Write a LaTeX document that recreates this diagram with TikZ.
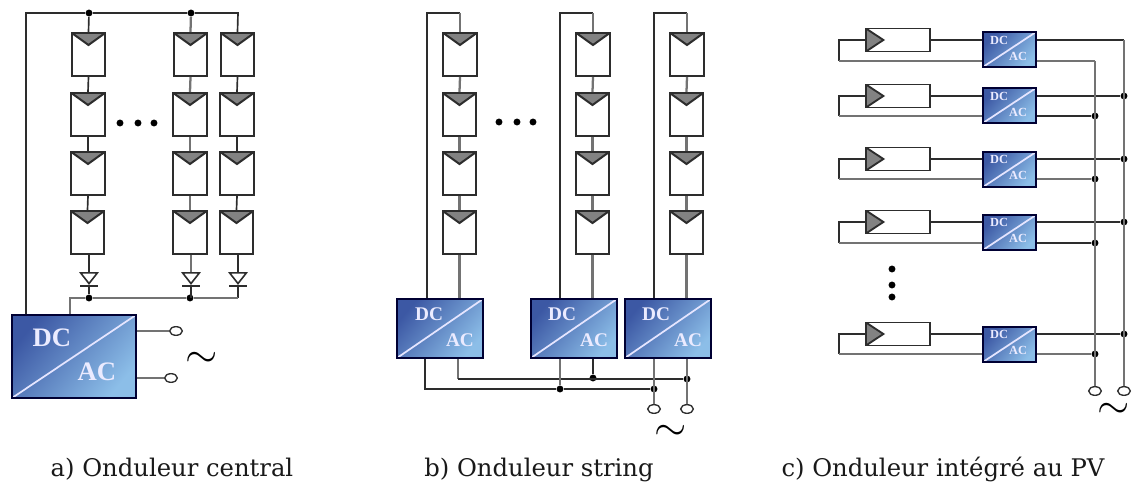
\documentclass[tikz,border=0pt]{standalone}
\usepackage{fontspec}
\newfontfamily\captionfont{DejaVu Serif}
\newfontfamily\convfont{Liberation Serif}
\usetikzlibrary{shapes.geometric}

\definecolor{pvgray}{RGB}{130,130,130}
\definecolor{wiredark}{RGB}{45,45,45}
\definecolor{wirelight}{RGB}{115,115,115}
\definecolor{convdark}{RGB}{60,88,164}
\definecolor{convlight}{RGB}{140,190,232}

\tikzset{every picture/.style={line width=0.75pt}}
\tikzset{
	wire/.style={draw=wiredark,line width=1.25pt},
	wiregray/.style={draw=wirelight,line width=1.7pt},
	pvv/.style={draw=wiredark,line width=1.5pt,fill=white,inner sep=0pt,minimum width=25pt,minimum height=32.25pt,
		path picture={\filldraw[fill=pvgray,draw=wiredark] (path picture bounding box.north west) -- (path picture bounding box.north east) -- ([yshift=-9pt]path picture bounding box.north) -- cycle;}},
	pvh/.style={draw=wiredark,line width=1.4pt,fill=white,inner sep=0pt,minimum width=48pt,minimum height=17.25pt,
		path picture={\filldraw[fill=pvgray,draw=wiredark] (path picture bounding box.north west) -- (path picture bounding box.south west) -- ([xshift=13pt]path picture bounding box.west) -- cycle;}},
	conv/.style={draw=black!80!blue,line width=1.2pt,inner sep=0pt,shade,shading=axis,left color=convdark,right color=convlight,shading angle=50,
		path picture={\draw[white!90!blue,line width=1.3pt] (path picture bounding box.south west) -- (path picture bounding box.north east);}},
	convA/.style={conv,minimum width=93pt,minimum height=62.25pt},
	convB/.style={conv,minimum width=64.5pt,minimum height=44.25pt},
	convC/.style={conv,minimum width=39.75pt,minimum height=26.25pt},
	convtextA/.style={text=white!92!blue,inner sep=0pt,font=\convfont\bfseries\fontsize{20}{24}\selectfont},
	convtextB/.style={text=white!92!blue,inner sep=0pt,font=\convfont\bfseries\fontsize{14.5}{17}\selectfont},
	convtextC/.style={text=white!92!blue,inner sep=0pt,font=\convfont\bfseries\fontsize{9.3}{11}\selectfont},
	junc/.style={circle,fill=black,inner sep=0pt,minimum size=5.2pt},
	term/.style={ellipse,draw=wiredark,fill=white,line width=1pt,inner sep=0pt,minimum width=9.5pt,minimum height=6.5pt},
	diode/.style={isosceles triangle,isosceles triangle stretches,shape border rotate=-90,draw=wiredark,fill=white,line width=1.2pt,inner sep=0pt,minimum width=12.5pt,minimum height=8pt},
	caption/.style={inner sep=0pt,anchor=base,text=black!90,font=\captionfont\fontsize{18.2}{22}\selectfont}
}

\begin{document}
\begin{tikzpicture}[x=0.75pt,y=0.75pt,yscale=-1,xscale=1]
	\useasboundingbox (0,0) rectangle (1133,484);

	% Onduleur central
	\node[pvv] (a11) at (88.5,54.5) {};
	\node[pvv] (a12) at (88,114.5) {};
	\node[pvv] (a13) at (88,173.5) {};
	\node[pvv] (a14) at (87.5,232.5) {};
	\node[pvv] (a21) at (190.5,54.5) {};
	\node[pvv] (a22) at (190,114.5) {};
	\node[pvv] (a23) at (190,173.5) {};
	\node[pvv] (a24) at (190,232.5) {};
	\node[pvv] (a31) at (237.5,54.5) {};
	\node[pvv] (a32) at (237,114.5) {};
	\node[pvv] (a33) at (237,173.5) {};
	\node[pvv] (a34) at (236.5,232.5) {};
	\node[diode] (ad1) at (89,277) {};
	\node[diode] (ad2) at (191,277) {};
	\node[diode] (ad3) at (238,277) {};
	\node[junc] (aj1) at (89,13) {};
	\node[junc] (aj2) at (191,13) {};
	\node[junc] (aj3) at (89,298) {};
	\node[junc] (aj4) at (190,298) {};
	\node[convA] (aconv) at (74,356.5) {};
	\node[term] (at1) at (176,331) {};
	\node[term] (at2) at (171,378) {};
	\coordinate (atl) at (26,13);
	\coordinate (atr) at (238,13);
	\coordinate (abl) at (70,298);
	\coordinate (abr) at (238,298);

	%Straight Lines
	\draw[wire] (aconv.north -| atl) -- (atl) -- (aj1) -- (aj2) -- (atr) -- (a31.north);
	\draw[wire] (aj1) -- (a11.north);
	\draw[wiregray] (aj2) -- (a21.north);
	\draw[wire] (a11.south) -- (a12.north);
	\draw[wire] (a12.south) -- (a13.north);
	\draw[wire] (a13.south) -- (a14.north);
	\draw[wire] (a14.south -| ad1) -- (ad1.north);
	\draw[wiregray] (a21.south) -- (a22.north);
	\draw[wiregray] (a22.south) -- (a23.north);
	\draw[wiregray] (a23.south) -- (a24.north);
	\draw[wiregray] (a24.south -| ad2) -- (ad2.north);
	\draw[wire] (a31.south) -- (a32.north);
	\draw[wire] (a32.south) -- (a33.north);
	\draw[wire] (a33.south) -- (a34.north);
	\draw[wire] (a34.south -| ad3) -- (ad3.north);
	\draw[wire] ([xshift=-6.4pt]ad1.apex) -- ([xshift=6.4pt]ad1.apex);
	\draw[wire] ([xshift=-6.4pt]ad2.apex) -- ([xshift=6.4pt]ad2.apex);
	\draw[wire] ([xshift=-6.4pt]ad3.apex) -- ([xshift=6.4pt]ad3.apex);
	\draw[wire] (ad1.apex) -- (aj3);
	\draw[wire] (ad2.apex) -- (aj4 -| ad2);
	\draw[wire] (ad3.apex) -- (abr);
	\draw[wiregray] (aconv.north -| abl) -- (abl) -- (aj3) -- (aj4) -- (abr);
	\draw[wiregray] (at1 -| aconv.east) -- (at1);
	\draw[wiregray] (at2 -| aconv.east) -- (at2);

	% Text Node
	\node[convtextA] (adc) at (52,338) {DC};
	\node[convtextA] (aac) at (97,372) {AC};
	\node (atilde) at (202,360) {\fontsize{24.88}{28}\selectfont\scalebox{1.25}{$\sim$}};
	\node[junc] (adot1) at (120,123) {};
	\node[junc] (adot2) at (138,123) {};
	\node[junc] (adot3) at (154,123) {};
	\node[caption] (acap) at (172,477) {a) Onduleur central};

	% Onduleur string
	\node[pvv] (b11) at (460,54.5) {};
	\node[pvv] (b12) at (459.5,114.5) {};
	\node[pvv] (b13) at (459.5,173.5) {};
	\node[pvv] (b14) at (459.5,232.5) {};
	\node[pvv] (b21) at (593,54.5) {};
	\node[pvv] (b22) at (592.5,114.5) {};
	\node[pvv] (b23) at (592.5,173.5) {};
	\node[pvv] (b24) at (592.5,232.5) {};
	\node[pvv] (b31) at (687,54.5) {};
	\node[pvv] (b32) at (686.5,114.5) {};
	\node[pvv] (b33) at (686.5,173.5) {};
	\node[pvv] (b34) at (686.5,232.5) {};
	\node[convB] (bconv1) at (440,328.5) {};
	\node[convB] (bconv2) at (574,328.5) {};
	\node[convB] (bconv3) at (668,328.5) {};
	\coordinate (b1tl) at (427,13);
	\coordinate (b1tr) at (460,13);
	\coordinate (b2tl) at (560,13);
	\coordinate (b2tr) at (593,13);
	\coordinate (b3tl) at (654,13);
	\coordinate (b3tr) at (687,13);
	\coordinate (bl1) at (425,389);
	\coordinate (bl2) at (458,379);
	\node[junc] (bj1) at (560,389) {};
	\node[junc] (bj2) at (654,389) {};
	\node[junc] (bj3) at (593,378) {};
	\node[junc] (bj4) at (687,379) {};
	\node[term] (bt1) at (654,409) {};
	\node[term] (bt2) at (687,409) {};

	%Straight Lines
	\draw[wire] (bconv1.north -| b1tl) -- (b1tl) -- (b1tr);
	\draw[wiregray] (b1tr) -- (b11.north);
	\draw[wiregray] (b11.south) -- (b12.north);
	\draw[wiregray] (b12.south) -- (b13.north);
	\draw[wiregray] (b13.south) -- (b14.north);
	\draw[wiregray] (b14.south) -- (bconv1.north -| b14);
	\draw[wire] (bconv2.north -| b2tl) -- (b2tl) -- (b2tr);
	\draw[wiregray] (b2tr) -- (b21.north);
	\draw[wiregray] (b21.south) -- (b22.north);
	\draw[wiregray] (b22.south) -- (b23.north);
	\draw[wiregray] (b23.south) -- (b24.north);
	\draw[wiregray] (b24.south) -- (bconv2.north -| b24);
	\draw[wire] (bconv3.north -| b3tl) -- (b3tl) -- (b3tr);
	\draw[wiregray] (b3tr) -- (b31.north);
	\draw[wiregray] (b31.south) -- (b32.north);
	\draw[wiregray] (b32.south) -- (b33.north);
	\draw[wiregray] (b33.south) -- (b34.north);
	\draw[wiregray] (b34.south) -- (bconv3.north -| b34);
	\draw[wire] (bconv1.south -| bl1) -- (bl1) -- (bj1) -- (bj2);
	\draw[wiregray] (bconv1.south -| bl2) -- (bl2);
	\draw[wire] (bl2) -- (bj4);
	\draw[wiregray] (bconv2.south -| bj1) -- (bj1);
	\draw[wire] (bconv2.south -| bj3) -- (bj3);
	\draw[wiregray] (bconv3.south -| bt1) -- (bt1);
	\draw[wiregray] (bconv3.south -| bt2) -- (bt2);

	% Text Node
	\node[convtextB] (b1dc) at (429,314) {DC};
	\node[convtextB] (b1ac) at (460,340) {AC};
	\node[convtextB] (b2dc) at (562,314) {DC};
	\node[convtextB] (b2ac) at (594,340) {AC};
	\node[convtextB] (b3dc) at (656,314) {DC};
	\node[convtextB] (b3ac) at (688,340) {AC};
	\node (btilde) at (671,433) {\fontsize{24.88}{28}\selectfont\scalebox{1.25}{$\sim$}};
	\node[junc] (bdot1) at (499,122) {};
	\node[junc] (bdot2) at (517,122) {};
	\node[junc] (bdot3) at (533,122) {};
	\node[caption] (bcap) at (539,477) {b) Onduleur string};

	% Onduleur integre au PV
	\node[pvh] (c1m) at (898,40) {};
	\node[pvh] (c2m) at (898,96) {};
	\node[pvh] (c3m) at (898,159) {};
	\node[pvh] (c4m) at (898,222) {};
	\node[pvh] (c5m) at (898,334) {};
	\node[convC] (c1v) at (1009.5,49.5) {};
	\node[convC] (c2v) at (1009.5,105.5) {};
	\node[convC] (c3v) at (1009.5,169.5) {};
	\node[convC] (c4v) at (1009.5,232.5) {};
	\node[convC] (c5v) at (1009.5,344.5) {};
	\coordinate (c1l) at (839,61);
	\coordinate (c2l) at (839,116);
	\coordinate (c3l) at (839,179);
	\coordinate (c4l) at (839,243);
	\coordinate (c5l) at (839,354);
	\coordinate (c1p) at (1124,40);
	\coordinate (c1n) at (1095,61);
	\node[junc] (c2p) at (1124,96) {};
	\node[junc] (c2n) at (1095,116) {};
	\node[junc] (c3p) at (1124,159) {};
	\node[junc] (c3n) at (1095,179) {};
	\node[junc] (c4p) at (1124,222) {};
	\node[junc] (c4n) at (1095,243) {};
	\node[junc] (c5p) at (1124,334) {};
	\node[junc] (c5n) at (1095,354) {};
	\node[term] (ct1) at (1095,391) {};
	\node[term] (ct2) at (1124,391) {};

	%Straight Lines
	\draw[wire] (c1m.west) -| (c1l);
	\draw[wiregray] (c1l) -- (c1l -| c1v.west);
	\draw[wire] (c1m.east) -- (c1m.east -| c1v.west);
	\draw[wire] (c1m.east -| c1v.east) -- (c1p);
	\draw[wiregray] (c1l -| c1v.east) -- (c1n);
	\draw[wire] (c2m.west) -| (c2l);
	\draw[wiregray] (c2l) -- (c2l -| c2v.west);
	\draw[wire] (c2m.east) -- (c2m.east -| c2v.west);
	\draw[wire] (c2m.east -| c2v.east) -- (c2p);
	\draw[wire] (c2l -| c2v.east) -- (c2n);
	\draw[wire] (c3m.west) -| (c3l);
	\draw[wiregray] (c3l) -- (c3l -| c3v.west);
	\draw[wire] (c3m.east) -- (c3m.east -| c3v.west);
	\draw[wire] (c3m.east -| c3v.east) -- (c3p);
	\draw[wiregray] (c3l -| c3v.east) -- (c3n);
	\draw[wire] (c4m.west) -| (c4l);
	\draw[wiregray] (c4l) -- (c4l -| c4v.west);
	\draw[wire] (c4m.east) -- (c4m.east -| c4v.west);
	\draw[wire] (c4m.east -| c4v.east) -- (c4p);
	\draw[wire] (c4l -| c4v.east) -- (c4n);
	\draw[wire] (c5m.west) -| (c5l);
	\draw[wiregray] (c5l) -- (c5l -| c5v.west);
	\draw[wire] (c5m.east) -- (c5m.east -| c5v.west);
	\draw[wire] (c5m.east -| c5v.east) -- (c5p);
	\draw[wiregray] (c5l -| c5v.east) -- (c5n);
	\draw[wiregray] (c1n) -- (ct1);
	\draw[wiregray] (c1p) -- (ct2);

	% Text Node
	\node[convtextC] (c1dc) at (999,40) {DC};
	\node[convtextC] (c1ac) at (1018,56) {AC};
	\node[convtextC] (c2dc) at (999,96) {DC};
	\node[convtextC] (c2ac) at (1018,112) {AC};
	\node[convtextC] (c3dc) at (999,159) {DC};
	\node[convtextC] (c3ac) at (1018,175) {AC};
	\node[convtextC] (c4dc) at (999,222) {DC};
	\node[convtextC] (c4ac) at (1018,238) {AC};
	\node[convtextC] (c5dc) at (999,334) {DC};
	\node[convtextC] (c5ac) at (1018,350) {AC};
	\node (ctilde) at (1114,411) {\fontsize{24.88}{28}\selectfont\scalebox{1.25}{$\sim$}};
	\node[junc] (cdot1) at (892,269) {};
	\node[junc] (cdot2) at (892,285) {};
	\node[junc] (cdot3) at (892,297) {};
	\node[caption] (ccap) at (943,477) {c) Onduleur intégré au PV};

\end{tikzpicture}
\end{document}
